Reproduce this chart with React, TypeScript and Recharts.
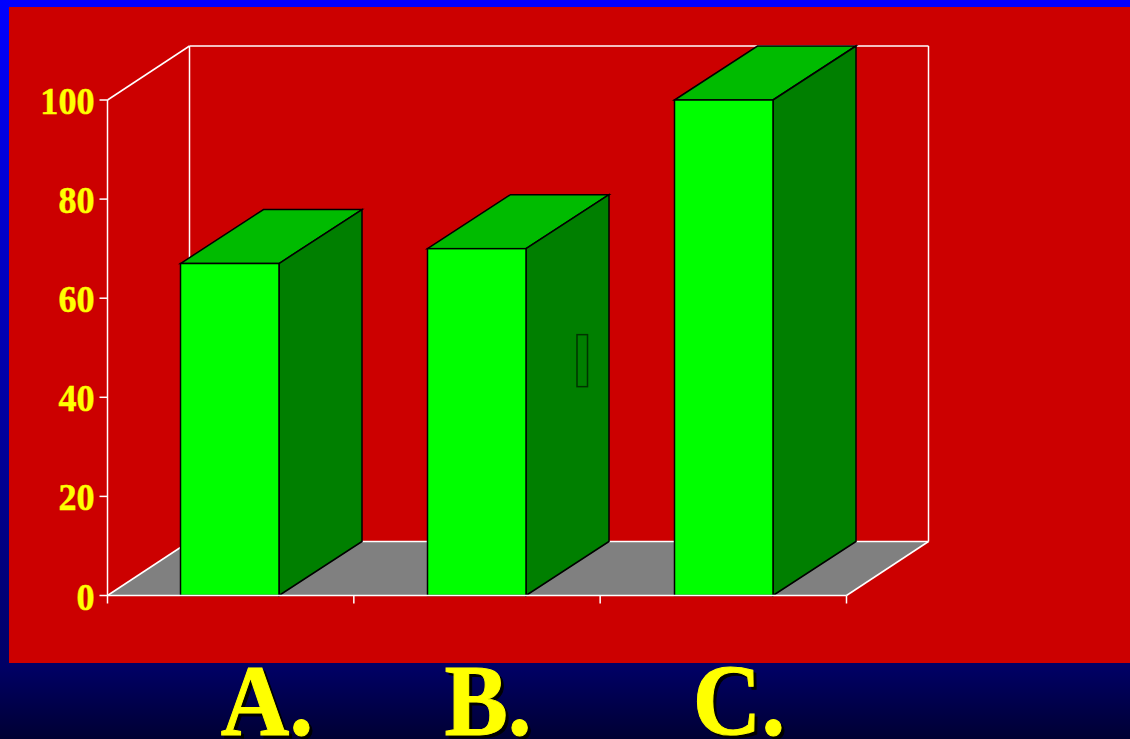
import { BarChart, Bar, XAxis, YAxis, ReferenceArea } from 'recharts';

const CATEGORIES = ['A.', 'B.', 'C.'];
const VALUES = [67, 70, 100];
const Y_TICKS = [0, 20, 40, 60, 80, 100];

// answer letters sit loosely under the bars, not on the band centres
const LABEL_SHIFT = [37, 11, 15];

const DEPTH_X = 82;
const BAR_DEPTH_X = 83;
const DEPTH_Y = 54;
// the x axis bands run 1px past the frame on each side
const BAND_OVERHANG = 1;
const SERIF = '"Liberation Serif", serif';

const chartData = CATEGORIES.map((name, i) => ({ name, value: VALUES[i] }));

function Frame(props: any) {
  const { y, height } = props;
  const x = props.x + BAND_OVERHANG;
  const width = props.width - BAND_OVERHANG * 2;
  const right = x + width;
  const bottom = y + height;
  const backTop = y - DEPTH_Y;
  const backBottom = bottom - DEPTH_Y;
  const edges = [
    [x, y, x + DEPTH_X, backTop],
    [x + DEPTH_X, backTop, right + DEPTH_X, backTop],
    [x + DEPTH_X, backTop, x + DEPTH_X, backBottom],
    [right + DEPTH_X, backTop, right + DEPTH_X, backBottom],
    [x + DEPTH_X, backBottom, right + DEPTH_X, backBottom],
    [x, bottom, x + DEPTH_X, backBottom],
    [right, bottom, right + DEPTH_X, backBottom],
  ];
  const ticks = [0, 1, 2, 3].map((i) => x + (width * i) / 3);
  return (
    <g>
      <polygon
        points={`${x},${bottom} ${x + DEPTH_X},${backBottom} ${right + DEPTH_X},${backBottom} ${right},${bottom}`}
        fill="#808080"
      />
      {edges.map(([x1, y1, x2, y2], i) => (
        <line key={i} x1={x1} y1={y1} x2={x2} y2={y2} stroke="#fff" strokeWidth={1.5} />
      ))}
      {ticks.map((t) => (
        <line key={t} x1={t} y1={bottom} x2={t} y2={bottom + 8} stroke="#fff" strokeWidth={1.5} />
      ))}
    </g>
  );
}

function Bar3D(props: any) {
  const { x, y, width, height, index } = props;
  const r = x + width - 0.5;
  const b = y + height;
  return (
    <g stroke="#000" strokeWidth={1.5} strokeLinejoin="miter">
      <polygon
        points={`${x},${y} ${x + BAR_DEPTH_X},${y - DEPTH_Y} ${r + BAR_DEPTH_X},${y - DEPTH_Y} ${r},${y}`}
        fill="#00bb00"
      />
      <polygon
        points={`${r},${y} ${r + BAR_DEPTH_X},${y - DEPTH_Y} ${r + BAR_DEPTH_X},${b - DEPTH_Y} ${r},${b}`}
        fill="#007f00"
      />
      <rect x={x} y={y} width={r - x} height={height} fill="#00ff00" />
      {/* small marker on the side face of the middle bar */}
      {index === 1 && (
        <rect x={x + 149.5} y={y + 86} width={10.5} height={52} fill="#007f00" stroke="#003300" strokeWidth={1.5} />
      )}
    </g>
  );
}

function YTick(props: any) {
  const { x, y, payload } = props;
  return (
    <text
      transform={`translate(${x} ${y + 14}) scale(0.95 1)`}
      textAnchor="end"
      fontFamily={SERIF}
      fontWeight="bold"
      fontSize={38}
      fill="#ffff00"
      stroke="#ffff00"
      strokeWidth={0.5}
    >
      {payload.value}
    </text>
  );
}

function XTick(props: any) {
  const { x, payload, index } = props;
  const cx = x + LABEL_SHIFT[index];
  const letter = (dx: number, dy: number, fill: string) => (
    <text
      transform={`translate(${cx + dx} ${735 + dy}) scale(0.94 1)`}
      textAnchor="middle"
      fontFamily={SERIF}
      fontWeight="bold"
      fontSize={101}
      fill={fill}
      stroke={fill}
      strokeWidth={1}
    >
      {payload.value}
    </text>
  );
  return (
    <g>
      {letter(3, 3, '#000')}
      {letter(0, 0, '#ffff00')}
    </g>
  );
}

export default function App() {
  return (
    <div
      style={{
        position: 'absolute',
        left: 0,
        top: 0,
        width: 1130,
        height: 739,
        overflow: 'hidden',
        background: 'linear-gradient(180deg, #0000ff 0%, #000066 90%, #000033 100%)',
      }}
    >
      <div style={{ position: 'absolute', left: 9, top: 7, width: 1121, height: 656, background: '#cc0000' }} />
      <div style={{ position: 'absolute', left: 0, top: 0 }}>
        <BarChart
          width={1130}
          height={739}
          data={chartData}
          margin={{ top: 100, right: 283.5, bottom: 0, left: 0 }}
          barSize={99}
        >
          <XAxis
            dataKey="name"
            height={143.5}
            padding={{ left: -BAND_OVERHANG, right: -BAND_OVERHANG }}
            axisLine={{ stroke: '#fff', strokeWidth: 1.5 }}
            tickLine={false}
            tick={<XTick />}
            interval={0}
          />
          <YAxis
            width={107.5}
            domain={[0, 100]}
            ticks={Y_TICKS}
            interval={0}
            axisLine={{ stroke: '#fff', strokeWidth: 1.5 }}
            tickLine={{ stroke: '#fff', strokeWidth: 1.5 }}
            tickSize={8}
            tickMargin={5}
            tick={<YTick />}
          />
          <ReferenceArea y1={0} y2={100} shape={<Frame />} />
          <Bar dataKey="value" shape={<Bar3D />} isAnimationActive={false} />
        </BarChart>
      </div>
    </div>
  );
}
